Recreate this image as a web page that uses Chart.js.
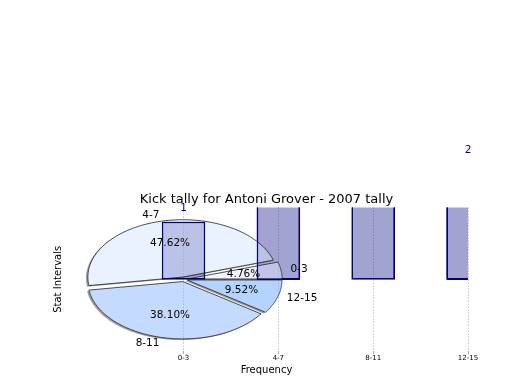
<!DOCTYPE html>
<html>
<head>
<meta charset="utf-8">
<script src="https://cdn.jsdelivr.net/npm/chart.js@4/dist/chart.umd.min.js"></script>
<style>
  html, body { margin: 0; padding: 0; background: #fff; }
  canvas { display: block; }
</style>
</head>
<body>
<canvas id="chart" width="520" height="390"></canvas>
<script>
const categories = ['0-3', '4-7', '8-11', '12-15'];
const counts = [1, 10, 8, 2];
const pieColors = ['#dfe8ff', '#d5e4ff', '#86b2ff', '#63a5ff'];
const explode = [0.04, 0.04, 0.04, 0.04];

const FONT = 'DejaVu Sans, sans-serif';

// pie drawn in data units on the same linear axes as the bars, over the bars
const piePlugin = {
  id: 'pie',
  afterDatasetsDraw(chart) {
    const { ctx, chartArea, scales: { x, y } } = chart;
    const total = counts.reduce((s, v) => s + v, 0);
    const px = v => x.getPixelForValue(v);
    const py = v => y.getPixelForValue(v);

    let a0 = 0;
    const wedges = counts.map((v, i) => {
      const a1 = a0 + v / total * 2 * Math.PI;
      const mid = (a0 + a1) / 2;
      const w = { a0, a1, mid, cx: explode[i] * Math.cos(mid), cy: explode[i] * Math.sin(mid), i, v };
      a0 = a1;
      return w;
    });

    const wedgePath = (w, ox, oy, fresh = true) => {
      if (fresh) ctx.beginPath();
      ctx.moveTo(px(w.cx + ox), py(w.cy + oy));
      const n = 80;
      for (let k = 0; k <= n; k++) {
        const a = w.a0 + (w.a1 - w.a0) * k / n;
        ctx.lineTo(px(w.cx + ox + Math.cos(a)), py(w.cy + oy + Math.sin(a)));
      }
      ctx.closePath();
    };

    ctx.save();
    // shadow only where the wedges do not cover it
    ctx.save();
    ctx.beginPath();
    ctx.rect(0, 0, chart.width, chart.height);
    wedges.forEach(w => wedgePath(w, 0, 0, false));
    ctx.clip('evenodd');
    wedges.forEach(w => {
      wedgePath(w, -0.02, -0.02);
      ctx.fillStyle = 'rgba(60,64,76,0.5)';
      ctx.fill();
    });
    ctx.restore();

    wedges.forEach(w => {
      wedgePath(w, 0, 0);
      ctx.globalAlpha = 0.48;
      ctx.fillStyle = pieColors[w.i];
      ctx.fill();
      ctx.globalAlpha = 1;
      ctx.lineWidth = 0.8;
      ctx.strokeStyle = '#222';
      ctx.stroke();
    });

    // bar outlines stay on top of the pie
    const meta = chart.getDatasetMeta(0);
    ctx.save();
    ctx.beginPath();
    ctx.rect(chartArea.left, chartArea.top, chartArea.right - chartArea.left, chartArea.bottom - chartArea.top);
    ctx.clip();
    ctx.strokeStyle = '#000080';
    ctx.lineWidth = 1;
    meta.data.forEach(bar => {
      const p = bar.getProps(['x', 'y', 'base', 'width'], true);
      ctx.strokeRect(Math.round(p.x - p.width / 2) + 0.5, Math.round(p.y) + 0.5,
        Math.round(p.width) - 1, Math.round(p.base - p.y) - 1);
    });
    ctx.restore();

    ctx.fillStyle = '#000';
    ctx.font = '10.5px ' + FONT;
    ctx.textBaseline = 'middle';
    wedges.forEach(w => {
      const c = Math.cos(w.mid), s = Math.sin(w.mid);
      ctx.textAlign = 'center';
      ctx.fillText((w.v / total * 100).toFixed(2) + '%', px(w.cx + 0.6 * c), py(w.cy + 0.6 * s));
      ctx.textAlign = c > 0 ? 'left' : 'right';
      ctx.fillText(categories[w.i], px(w.cx + 1.1 * c), py(w.cy + 1.1 * s));
    });

    // count labels above the bars
    ctx.fillStyle = '#000080';
    ctx.textAlign = 'center';
    meta.data.forEach((bar, i) => {
      ctx.fillText(String(counts[i]), bar.x, bar.y - 14);
    });
    ctx.restore();
  }
};

new Chart(document.getElementById('chart'), {
  type: 'bar',
  data: {
    datasets: [{
      data: counts.map((v, i) => ({ x: i, y: v })),
      backgroundColor: 'rgba(0,0,128,0.36)',
      borderColor: '#000080',
      borderWidth: 1,
      borderSkipped: false,
      barThickness: 43
    }]
  },
  options: {
    responsive: false,
    animation: false,
    layout: { padding: { left: 52, right: 52, top: 192, bottom: 13.6 } },
    plugins: {
      legend: { display: false },
      tooltip: { enabled: false },
      title: {
        display: true,
        fullSize: false,
        text: 'Kick tally for Antoni Grover - 2007 tally',
        color: '#000',
        font: { family: FONT, size: 13, weight: 'normal', lineHeight: 1.2 },
        padding: { top: 0, bottom: 0 }
      }
    },
    scales: {
      x: {
        type: 'linear',
        min: -1.25,
        max: 3.0,
        offset: false,
        z: 1,
        afterBuildTicks: axis => { axis.ticks = categories.map((c, i) => ({ value: i })); },
        ticks: {
          callback: v => categories[v],
          color: '#000',
          font: { family: FONT, size: 7 },
          padding: 0,
          maxRotation: 0,
          autoSkip: false
        },
        grid: { offset: false, color: '#a8a8a8', lineWidth: 1, tickLength: 3 },
        border: { display: false, dash: [1, 2] },
        title: {
          display: true,
          text: 'Frequency',
          color: '#000',
          font: { family: FONT, size: 10, lineHeight: 1.2 },
          padding: { top: 2, bottom: 0 }
        }
      },
      y: {
        type: 'linear',
        min: -1.25,
        max: 1.25,
        ticks: { display: false },
        grid: { display: false, drawTicks: false },
        border: { display: false },
        title: {
          display: true,
          text: 'Stat Intervals',
          color: '#000',
          font: { family: FONT, size: 10, lineHeight: 1.2 },
          padding: { top: 0, bottom: 1 }
        }
      }
    }
  },
  plugins: [piePlugin]
});
</script>
</body>
</html>
